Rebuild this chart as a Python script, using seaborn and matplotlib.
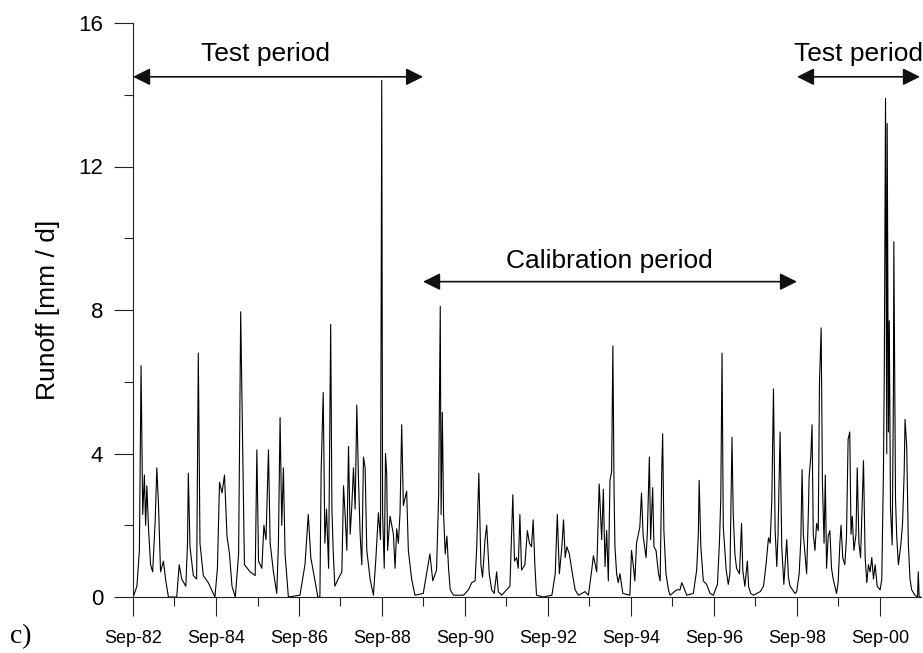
import pandas as pd
import numpy as np
import matplotlib
matplotlib.use('Agg')
import matplotlib.pyplot as plt
import matplotlib.dates as mdates
from matplotlib.ticker import MultipleLocator
import seaborn as sns

# runoff series (decimal year, mm/d)
years = [
    1982.67, 1982.76, 1982.82, 1982.86, 1982.90, 1982.94, 1982.97, 1983.00, 1983.04, 1983.09,
    1983.14, 1983.20, 1983.24, 1983.28, 1983.33, 1983.40, 1983.45, 1983.52, 1983.72, 1983.78,
    1983.84, 1983.94, 1983.98, 1984.00, 1984.04, 1984.12, 1984.20, 1984.24, 1984.28, 1984.36,
    1984.48, 1984.64, 1984.70, 1984.75, 1984.81, 1984.87, 1984.93, 1984.99, 1985.05, 1985.13,
    1985.21, 1985.26, 1985.31, 1985.35, 1985.49, 1985.61, 1985.65, 1985.69, 1985.77, 1985.82,
    1985.87, 1985.93, 1985.97, 1986.05, 1986.13, 1986.17, 1986.21, 1986.25, 1986.29, 1986.33,
    1986.41, 1986.69, 1986.81, 1986.89, 1986.95, 1987.06, 1987.12, 1987.17,
    1987.20, 1987.25, 1987.29, 1987.33, 1987.38, 1987.43, 1987.46, 1987.49, 1987.53, 1987.61,
    1987.70, 1987.74, 1987.78, 1987.82, 1987.86, 1987.90, 1987.94, 1987.98, 1988.02, 1988.06,
    1988.10, 1988.14, 1988.18, 1988.22, 1988.26, 1988.30, 1988.38, 1988.46, 1988.52, 1988.58,
    1988.63, 1988.66, 1988.68, 1988.72, 1988.75, 1988.78, 1988.80, 1988.86, 1988.94, 1988.98,
    1989.02, 1989.06, 1989.10, 1989.14, 1989.18, 1989.26, 1989.30, 1989.38, 1989.46, 1989.66,
    1989.82, 1989.89, 1989.98, 1990.03, 1990.07, 1990.09, 1990.12, 1990.15, 1990.19, 1990.23,
    1990.27, 1990.31, 1990.39, 1990.63, 1990.75, 1990.83, 1990.91, 1990.95, 1991.00, 1991.05,
    1991.09, 1991.15, 1991.19, 1991.25, 1991.31, 1991.37, 1991.43, 1991.47, 1991.55, 1991.67,
    1991.75, 1991.82, 1991.86, 1991.91, 1991.95, 1991.99, 1992.03, 1992.11, 1992.17, 1992.22,
    1992.27, 1992.31, 1992.35, 1992.39, 1992.55, 1992.76, 1992.84, 1992.89, 1992.94, 1993.00,
    1993.04, 1993.08, 1993.12, 1993.18, 1993.24, 1993.32, 1993.40, 1993.56, 1993.64, 1993.72,
    1993.76, 1993.84, 1993.90, 1993.96, 1994.00, 1994.04, 1994.08, 1994.12, 1994.16, 1994.20,
    1994.23, 1994.26, 1994.28, 1994.32, 1994.36, 1994.40, 1994.47, 1994.64, 1994.68, 1994.72,
    1994.76, 1994.80, 1994.88, 1994.92, 1994.96,
    1995.03, 1995.06, 1995.11, 1995.14, 1995.19, 1995.22, 1995.27, 1995.33, 1995.37, 1995.41,
    1995.43, 1995.46, 1995.51, 1995.57, 1995.61, 1995.77, 1995.85, 1995.89, 1995.93, 1996.01,
    1996.17, 1996.25, 1996.29, 1996.31, 1996.35, 1996.41, 1996.49, 1996.57, 1996.65, 1996.75,
    1996.80, 1996.83, 1996.86, 1996.89, 1996.96, 1997.01, 1997.05, 1997.10, 1997.13, 1997.17,
    1997.21, 1997.28, 1997.33, 1997.36, 1997.41, 1997.47, 1997.50, 1997.55, 1997.62, 1997.78,
    1997.86, 1997.92, 1997.98, 1998.02, 1998.06, 1998.10, 1998.14, 1998.18, 1998.21, 1998.26,
    1998.30, 1998.35, 1998.42, 1998.46, 1998.50, 1998.56, 1998.62, 1998.66, 1998.72, 1998.76,
    1998.79, 1998.82, 1998.86, 1998.90, 1998.94, 1998.96,
    1999.00, 1999.03, 1999.06, 1999.10, 1999.14, 1999.18, 1999.21, 1999.25, 1999.28, 1999.32,
    1999.35, 1999.38, 1999.42, 1999.46, 1999.50, 1999.54, 1999.58, 1999.62, 1999.66, 1999.70,
    1999.73, 1999.77, 1999.82, 1999.86, 1999.90, 1999.94, 1999.97, 2000.00, 2000.04, 2000.09,
    2000.12, 2000.16, 2000.20, 2000.27, 2000.31, 2000.35, 2000.39, 2000.43, 2000.47, 2000.51,
    2000.55, 2000.60, 2000.67, 2000.71, 2000.75, 2000.77, 2000.80, 2000.83, 2000.84, 2000.87,
    2000.89, 2000.92, 2000.96, 2000.99, 2001.00, 2001.04, 2001.07, 2001.11, 2001.17, 2001.21,
    2001.25, 2001.27, 2001.31, 2001.35, 2001.39, 2001.43, 2001.51, 2001.57, 2001.59, 2001.61,
    2001.67,
]
runoff = [
    0.0, 0.3, 1.3, 6.45, 2.3, 3.4, 2.0, 3.1, 1.9, 0.9,
    0.7, 2.1, 3.6, 2.6, 0.7, 1.0, 0.5, 0.0, 0.0, 0.9,
    0.5, 0.3, 1.5, 3.45, 1.4, 0.6, 0.5, 6.8, 1.5, 0.6,
    0.4, 0.0, 0.8, 3.2, 2.9, 3.4, 1.7, 1.2, 0.3, 0.0,
    1.2, 7.95, 4.0, 0.9, 0.7, 0.6, 4.1, 1.0, 0.8, 2.0,
    1.6, 4.1, 1.5, 0.7, 0.1, 1.5, 5.0, 2.0, 3.6, 1.2,
    0.0, 0.05, 0.9, 2.3, 1.1, 0.4, 0.0, 0.0,
    3.5, 5.7, 1.5, 2.45, 0.8, 7.6, 2.45, 1.3, 0.3, 0.5,
    0.7, 3.1, 2.25, 1.3, 4.2, 1.75, 2.55, 3.6, 2.45, 5.35,
    3.3, 1.75, 0.9, 3.9, 3.6, 1.3, 0.5, 0.05, 1.1, 2.35,
    1.6, 14.4, 2.35, 0.8, 4.0, 3.4, 1.3, 2.25, 1.75, 0.8,
    1.9, 1.5, 2.35, 4.8, 2.55, 2.95, 1.3, 0.5, 0.05, 0.1,
    1.2, 0.45, 0.75, 2.8, 8.1, 2.3, 5.15, 2.3, 1.2, 1.7,
    0.8, 0.2, 0.05, 0.05, 0.2, 0.4, 0.45, 1.4, 3.45, 0.9,
    0.55, 1.6, 2.0, 0.65, 0.2, 0.1, 0.7, 0.15, 0.05, 0.2,
    0.3, 2.85, 1.0, 1.1, 0.8, 2.3, 0.75, 0.9, 1.85, 1.5,
    1.4, 2.15, 0.9, 0.05, 0.0, 0.05, 0.65, 2.3, 0.65, 1.4,
    2.15, 1.1, 1.4, 1.2, 0.75, 0.2, 0.05, 0.15, 0.05, 0.75,
    1.15, 0.7, 3.15, 1.6, 3.0, 0.85, 1.85, 0.45, 3.25, 3.5,
    7.0, 2.8, 1.4, 0.65, 0.4, 0.65, 0.1, 0.05, 1.3, 0.9,
    0.45, 1.5, 1.95, 2.9, 1.7,
    1.1, 1.75, 3.9, 1.6, 3.05, 1.4, 1.3, 0.65, 0.45, 3.6,
    4.55, 1.85, 0.65, 0.2, 0.05, 0.2, 0.2, 0.4, 0.3, 0.05,
    0.1, 0.75, 1.75, 3.25, 1.4, 0.45, 0.35, 0.1, 0.05, 0.35,
    1.6, 2.75, 6.8, 1.95, 0.75, 0.35, 0.65, 4.45, 2.3, 1.2,
    0.8, 0.65, 2.05, 0.75, 0.3, 1.0, 0.3, 0.1, 0.05, 0.15,
    0.3, 0.9, 1.65, 1.5, 2.7, 5.8, 1.85, 0.85, 1.75, 4.6,
    1.4, 0.35, 1.6, 0.55, 0.3, 0.2, 0.1, 0.15, 0.65, 1.6,
    3.55, 1.75, 1.2, 0.65, 2.3, 3.35,
    3.9, 4.8, 1.75, 1.3, 2.05, 1.85, 6.0, 7.5, 3.2, 1.5,
    3.4, 0.8, 1.7, 1.85, 0.8, 0.5, 0.3, 0.1, 0.4, 1.47,
    2.0, 1.1, 0.9, 1.65, 4.4, 4.6, 1.75, 2.25, 1.3, 1.75,
    3.6, 1.5, 1.1, 3.8, 1.1, 0.4, 0.9, 0.7, 1.1, 0.5,
    0.9, 0.3, 0.2, 0.5, 3.5, 6.2, 13.9, 4.0, 13.2, 4.6,
    7.7, 2.45, 1.45, 5.7, 9.9, 2.75, 1.67, 0.9, 1.47, 2.05,
    3.5, 4.95, 4.2, 1.47, 0.5, 0.2, 0.05, 0.0, 0.7, 0.0,
    0.0,
]

# periods (decimal years) and where their labels sit
period_names = ['Test period', 'Calibration period', 'Test period']
period_start = [1982.667, 1989.655, 1998.667]
period_end = [1989.655, 1998.667, 2001.63]
period_label_x = [1985.85, 1994.15, 2000.15]
period_arrow_y = [14.5, 8.79, 14.5]
period_label_y = [14.94, 9.17, 14.94]


def to_date(y):
    yr = int(y)
    start = pd.Timestamp(yr, 1, 1)
    return start + (pd.Timestamp(yr + 1, 1, 1) - start) * (y - yr)


df = pd.DataFrame({'date': [to_date(y) for y in years], 'runoff': runoff})

sns.set_style('ticks')
plt.rcParams['font.family'] = ['Liberation Sans', 'DejaVu Sans']
plt.rcParams['text.color'] = 'black'
plt.rcParams['xtick.labelcolor'] = 'black'
plt.rcParams['ytick.labelcolor'] = 'black'

fig = plt.figure(figsize=(9.23, 6.53), dpi=100)
ax = fig.add_axes([133 / 923, 56 / 653, 788 / 923, 574 / 653])

sns.lineplot(data=df, x='date', y='runoff', color='black', linewidth=0.8, ax=ax)

ax.set_xlim(pd.Timestamp('1982-09-01'), to_date(2001.655))
ax.set_ylim(0, 16)
ax.yaxis.set_major_locator(MultipleLocator(4))
ax.yaxis.set_minor_locator(MultipleLocator(2))
ax.xaxis.set_major_locator(mdates.YearLocator(2, month=9, day=1))
ax.xaxis.set_minor_locator(mdates.YearLocator(1, month=9, day=1))
ax.xaxis.set_major_formatter(mdates.DateFormatter('%b-%y'))

ax.tick_params(which='major', length=13.5, width=0.8, color='#222222')
ax.tick_params(which='minor', length=6.5, width=0.8, color='#222222')
ax.tick_params(axis='y', labelsize=16, pad=8, labelcolor='black')
ax.tick_params(axis='x', labelsize=13, pad=10, labelcolor='black')
sns.despine(ax=ax)
for side in ['left', 'bottom']:
    ax.spines[side].set_color('#222222')
    ax.spines[side].set_linewidth(0.8)
ax.set_xlabel('')
ax.set_ylabel('')

fig.text(48 / 923, 1 - 310 / 653, 'Runoff [mm / d]', rotation=90,
         ha='center', va='center', fontsize=19, color='black')
fig.text(10 / 923, 1 - 637 / 653, 'c)', ha='left', va='center', fontsize=20,
         family=['Liberation Serif', 'DejaVu Serif'], color='black')

# period arrows and labels
for name, s, e, lx, ay, ly in zip(period_names, period_start, period_end,
                                  period_label_x, period_arrow_y, period_label_y):
    ax.annotate('', xy=(to_date(e), ay), xytext=(to_date(s), ay),
                arrowprops=dict(arrowstyle='<|-|>', color='#111111', lw=1.2,
                                mutation_scale=26, shrinkA=0, shrinkB=0),
                annotation_clip=False)
    ax.text(to_date(lx), ly, name, ha='center', va='baseline', fontsize=19,
            color='black', clip_on=False)

plt.savefig('out.png', dpi=100)
plt.close('all')
